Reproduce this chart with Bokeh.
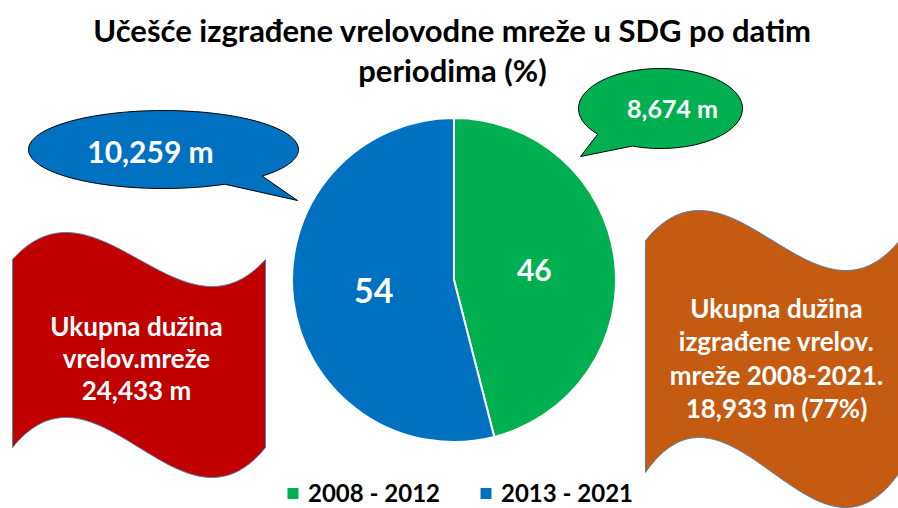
import numpy as np
from bokeh.plotting import figure
from bokeh.models import Range1d, ColumnDataSource
from bokeh.core.properties import value
from bokeh.embed import file_html
from bokeh.resources import INLINE

# ---- data ----
title_lines = ["Učešće izgrađene vrelovodne mreže u SDG po datim", "periodima (%)"]
categories = ["2008 - 2012", "2013 - 2021"]
shares = [46, 54]
length_labels = ["8,674 m", "10,259 m"]
colors = ["#00B050", "#0070C0"]
total_lines = ["Ukupna dužina", "vrelov.mreže", "24,433 m"]
built_lines = ["Ukupna dužina", "izgrađene vrelov.", "mreže 2008-2021.", "18,933 m (77%)"]

FONT = value("Lato")
W, H = 898, 508
p = figure(width=W, height=H, output_backend="svg", toolbar_location=None,
           x_range=Range1d(0, W), y_range=Range1d(-H, 0),
           x_axis_type=None, y_axis_type=None, min_border=0,
           outline_line_color=None, background_fill_color="white")
p.grid.visible = False

def T(x, y, txt, size, color="white", align="center", baseline="middle"):
    p.text(x=[x], y=[-y], text=[txt], text_font=FONT, text_font_style="bold",
           text_font_size=f"{size}px", text_color=color, text_align=align,
           text_baseline=baseline)

# ---- title ----
T(452, 29, title_lines[0], 31, color="black")
T(452, 69, title_lines[1], 31, color="black")

# ---- wave banners (bezier-like wave edges) ----
def wave(x0, x1, top_c, top_a, bot_c, bot_a):
    xs = np.linspace(x0, x1, 100)
    u = (xs - x0) / (x1 - x0)
    f = u * (1 - u) * (1 - 2 * u) / 0.0962
    top = top_c - top_a * f
    bot = bot_c - bot_a * f
    px = np.concatenate([xs, xs[::-1]])
    py = np.concatenate([top, bot[::-1]])
    return list(px), list(-py)

rx, ry = wave(12, 265, 259, 27, 447, 30)
p.patch(rx, ry, fill_color="#C00000", line_color="#5B7FA6", line_width=1)
ox, oy = wave(645, 899, 240, 30, 472, 35)
p.patch(ox, oy, fill_color="#C55A11", line_color="#5B7FA6", line_width=1)

for i, t in enumerate(total_lines):
    T(136, 325 + i * 32, t, 26)
for i, t in enumerate(built_lines):
    T(776, 307 + i * 33.5, t, 26)

# ---- speech bubbles ----
def bubble(cx, cy, ax, ay, a1, a2, tip):
    th1 = np.radians(np.linspace(0, a1, 30))
    th2 = np.radians(np.linspace(a2, 360, 90))
    xs = list(cx + ax * np.cos(th1)) + [tip[0]] + list(cx + ax * np.cos(th2))
    ys = list(cy + ay * np.sin(th1)) + [tip[1]] + list(cy + ay * np.sin(th2))
    return xs, [-y for y in ys]

bx, by = bubble(163, 149, 135, 39, 43, 63, (297, 200))
p.patch(bx, by, fill_color=colors[1], line_color="black", line_width=1)
gx, gy = bubble(660, 108, 82, 40, 110, 140, (580, 156))
p.patch(gx, gy, fill_color=colors[0], line_color="black", line_width=1)
T(150, 150, length_labels[1], 30)
T(672, 107, length_labels[0], 25)

# ---- pie ----
CX, CY, R = 453.5, 279.5, 162
frac = np.array(shares) / np.sum(shares)
cum = np.concatenate([[0], np.cumsum(frac)])
start = np.pi / 2 - cum[1:] * 2 * np.pi
end = np.pi / 2 - cum[:-1] * 2 * np.pi
src = ColumnDataSource(dict(start=start, end=end, color=colors, cat=categories))
p.wedge(x=CX, y=-CY, radius=R, start_angle="start", end_angle="end",
        fill_color="color", line_color="white", line_width=2, source=src)
mid = (start + end) / 2
label_sizes = [30, 34]
for i, s in enumerate(shares):
    lx = CX + 0.5 * R * np.cos(mid[i])
    ly = CY - 0.5 * R * np.sin(mid[i])
    T(lx, ly, str(s), label_sizes[i])

# ---- legend ----
leg_x = [292.5, 485.5]
for i, c in enumerate(categories):
    p.scatter(x=[leg_x[i]], y=[-493], marker="square", size=11,
              fill_color=colors[i], line_color=None)
    T(leg_x[i] + 15, 492, c, 24, color="black", align="left")

open("out.html", "w").write(file_html(p, INLINE))
